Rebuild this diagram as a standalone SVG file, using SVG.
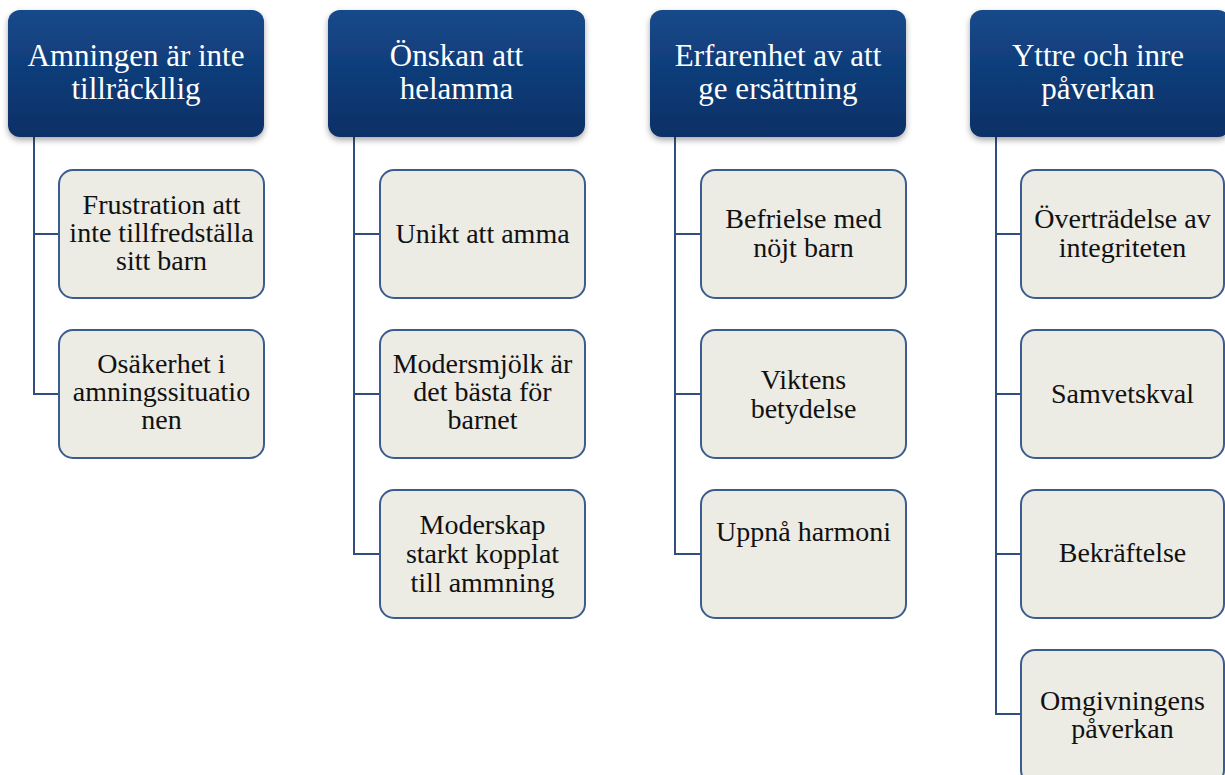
<svg xmlns="http://www.w3.org/2000/svg" width="1225" height="775" viewBox="0 0 1225 775">
<defs>
<linearGradient id="hg" x1="0" y1="0" x2="0" y2="1">
<stop offset="0" stop-color="#15498a"/>
<stop offset="1" stop-color="#0b2f66"/>
</linearGradient>
<filter id="sh" x="-10%" y="-10%" width="120%" height="130%">
<feDropShadow dx="0" dy="3" stdDeviation="3" flood-color="#000" flood-opacity="0.35"/>
</filter>
<style>
.h{fill:url(#hg);filter:url(#sh)}
.c{fill:#ecebe4;stroke:#3a5d8e;stroke-width:2}
.ht{font-family:"Liberation Serif","Times New Roman",serif;font-size:31px;fill:#ffffff;text-anchor:middle}
.ct{font-family:"Liberation Serif","Times New Roman",serif;font-size:28px;fill:#111111;text-anchor:middle}
.ln{fill:none;stroke:#2f4f7f;stroke-width:2}
</style>
</defs>
<rect width="1225" height="775" fill="#ffffff"/>
<g id="connectors">
<path class="ln" d="M34 137V394H59M34 234H59"/>
<path class="ln" d="M354 137V554H380M354 234H380M354 394H380"/>
<path class="ln" d="M675 137V554H701M675 234H701M675 394H701"/>
<path class="ln" d="M996 137V714H1021M996 234H1021M996 394H1021M996 554H1021"/>
</g>
<g id="h1"><rect class="h" x="8" y="10" width="256" height="127" rx="12"/><text class="ht" x="136" y="66">Amningen är inte</text><text class="ht" x="136" y="98.5">tillräckllig</text></g>
<g id="h2"><rect class="h" x="328" y="10" width="257" height="127" rx="12"/><text class="ht" x="456.5" y="66">Önskan att</text><text class="ht" x="456.5" y="98.5">helamma</text></g>
<g id="h3"><rect class="h" x="650" y="10" width="256" height="127" rx="12"/><text class="ht" x="778" y="66">Erfarenhet av att</text><text class="ht" x="778" y="98.5">ge ersättning</text></g>
<g id="h4"><rect class="h" x="970" y="10" width="260" height="127" rx="12"/><text class="ht" x="1098" y="66">Yttre och inre</text><text class="ht" x="1098" y="98.5">påverkan</text></g>

<g id="c1a"><rect class="c" x="59" y="170" width="205" height="128" rx="14"/><text class="ct" x="161.5" y="214">Frustration att</text><text class="ct" x="161.5" y="242">inte tillfredställa</text><text class="ct" x="161.5" y="270">sitt barn</text></g>
<g id="c1b"><rect class="c" x="59" y="330" width="205" height="128" rx="14"/><text class="ct" x="161.5" y="373">Osäkerhet i</text><text class="ct" x="161.5" y="401">amningssituatio</text><text class="ct" x="161.5" y="429">nen</text></g>

<g id="c2a"><rect class="c" x="380" y="170" width="205" height="128" rx="14"/><text class="ct" x="482.5" y="243">Unikt att amma</text></g>
<g id="c2b"><rect class="c" x="380" y="330" width="205" height="128" rx="14"/><text class="ct" x="482.5" y="373">Modersmjölk är</text><text class="ct" x="482.5" y="401">det bästa för</text><text class="ct" x="482.5" y="429">barnet</text></g>
<g id="c2c"><rect class="c" x="380" y="490" width="205" height="128" rx="14"/><text class="ct" x="482.5" y="534">Moderskap</text><text class="ct" x="482.5" y="563">starkt kopplat</text><text class="ct" x="482.5" y="592">till ammning</text></g>

<g id="c3a"><rect class="c" x="701" y="170" width="205" height="128" rx="14"/><text class="ct" x="803.5" y="228">Befrielse med</text><text class="ct" x="803.5" y="257">nöjt barn</text></g>
<g id="c3b"><rect class="c" x="701" y="330" width="205" height="128" rx="14"/><text class="ct" x="803.5" y="389">Viktens</text><text class="ct" x="803.5" y="418">betydelse</text></g>
<g id="c3c"><rect class="c" x="701" y="490" width="205" height="128" rx="14"/><text class="ct" x="803.5" y="541">Uppnå harmoni</text></g>

<g id="c4a"><rect class="c" x="1021" y="170" width="203" height="128" rx="14"/><text class="ct" x="1122.5" y="228">Överträdelse av</text><text class="ct" x="1122.5" y="257">integriteten</text></g>
<g id="c4b"><rect class="c" x="1021" y="330" width="203" height="128" rx="14"/><text class="ct" x="1122.5" y="403">Samvetskval</text></g>
<g id="c4c"><rect class="c" x="1021" y="490" width="203" height="128" rx="14"/><text class="ct" x="1122.5" y="562">Bekräftelse</text></g>
<g id="c4d"><rect class="c" x="1021" y="650" width="203" height="134" rx="14"/><text class="ct" x="1122.5" y="710">Omgivningens</text><text class="ct" x="1122.5" y="738">påverkan</text></g>
</svg>
